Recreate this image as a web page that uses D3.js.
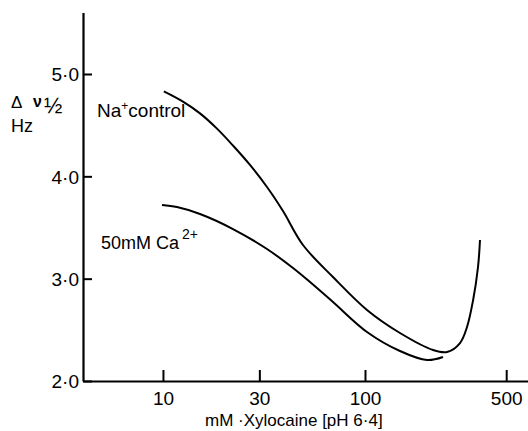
<!DOCTYPE html>
<html>
<head>
<meta charset="utf-8">
<script src="https://cdn.jsdelivr.net/npm/d3@7"></script>
<style>
  html, body { margin: 0; padding: 0; background: #fff; }
  svg { display: block; font-family: "Liberation Sans", Arial, sans-serif; }
</style>
</head>
<body>
<svg id="chart" width="528" height="431"></svg>
<script>
// ---- data ----
const xTicks = [10, 30, 100, 500];
const yTicks = [2, 3, 4, 5];

const naX = [10.1, 12.56, 15.25, 18.51, 22.21, 26.96, 32.73, 39.28, 49.33, 69.44, 102.3, 149.0, 217.1, 254.7, 295.3, 319.9, 343, 362.6, 370.9];
const naY = [4.83, 4.73, 4.615, 4.466, 4.301, 4.111, 3.896, 3.661, 3.329, 3.016, 2.694, 2.469, 2.303, 2.283, 2.371, 2.528, 2.792, 3.114, 3.378];

const caX = [9.89, 11.73, 15.25, 22.21, 32.73, 44.03, 53.45, 69.44, 102.3, 149.0, 202.7, 243.3];
const caY = [3.72, 3.70, 3.632, 3.485, 3.29, 3.104, 2.967, 2.772, 2.479, 2.293, 2.205, 2.235];

// ---- scales ----
const svg = d3.select("#chart");
const x = d3.scaleLog().domain([4.02, 641]).range([83, 528]);
const y = d3.scaleLinear().domain([2, 5.6]).range([381, 12.6]);

const fmt = d => d.toFixed(1).replace(".", "\u00B7");

// y axis
const gy = svg.append("g").attr("transform", "translate(83,0)")
  .call(d3.axisLeft(y).tickValues(yTicks).tickSizeInner(-9).tickSizeOuter(0).tickPadding(4).tickFormat(fmt));
// x axis
const gx = svg.append("g").attr("transform", "translate(0,381)")
  .call(d3.axisBottom(x).tickValues(xTicks).tickSizeInner(-11).tickSizeOuter(0).tickPadding(11).tickFormat(d3.format("d")));

[gx, gy].forEach(g => {
  g.select(".domain").attr("stroke", "#000").attr("stroke-width", 2.2);
  g.selectAll(".tick line").attr("stroke", "#000").attr("stroke-width", 2);
  g.selectAll(".tick text").attr("fill", "#000").style("font-size", "19px").style("font-family", "'Liberation Sans', Arial, sans-serif");
});
gy.selectAll(".tick text").attr("dy", "0.36em");

// curves
const line = d3.line().x(d => x(d[0])).y(d => y(d[1])).curve(d3.curveCatmullRom.alpha(0.5));
const na = naX.map((v, i) => [v, naY[i]]);
const ca = caX.map((v, i) => [v, caY[i]]);
[na, ca].forEach(s => {
  svg.append("path").datum(s).attr("d", line)
    .attr("fill", "none").attr("stroke", "#000").attr("stroke-width", 2);
});

// labels
const txt = (tx, ty, size) => svg.append("text").attr("x", tx).attr("y", ty)
  .attr("fill", "#000").style("font-size", size + "px");

// y axis title
txt(11, 108, 17).text("\u0394");
txt(33, 107, 16).style("font-weight", "bold").text("\u03BD");
txt(44, 113, 22).text("\u00BD");
txt(11, 132, 18).text("Hz");

// series labels
const t1 = txt(97, 117, 19);
t1.append("tspan").text("Na");
t1.append("tspan").attr("dy", -7).style("font-size", "12px").text("+");
t1.append("tspan").attr("dy", 7).text("control");

const t2 = txt(101, 249, 18);
t2.append("tspan").text("50mM Ca");
t2.append("tspan").attr("dx", 3).attr("dy", -10).style("font-size", "14px").text("2+");

// x axis title
txt(205, 426, 17).text("mM \u00B7Xylocaine [pH 6\u00B74]");
</script>
</body>
</html>
